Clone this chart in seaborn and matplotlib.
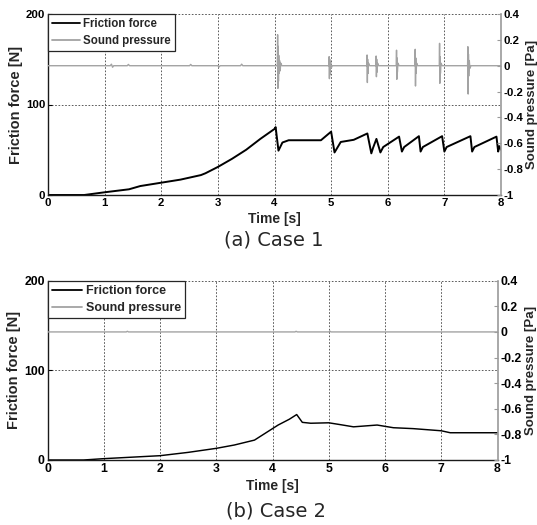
import numpy as np
import pandas as pd
import matplotlib
matplotlib.use("Agg")
import matplotlib.pyplot as plt
import seaborn as sns
from matplotlib.lines import Line2D

sns.set_style("white")
plt.rcParams['font.family'] = ['Liberation Sans', 'DejaVu Sans']
plt.rcParams['axes.unicode_minus'] = False

# ---------------- data ----------------
# Case 1 friction force [N]
case1_time = [0, 0.64, 1.0, 1.43, 1.63, 2.0, 2.34, 2.7, 2.78, 3.0, 3.25, 3.5, 3.75, 4.0, 4.02,
              4.07, 4.14, 4.25, 4.82, 5.0, 5.06, 5.17, 5.4, 5.64, 5.71, 5.74, 5.80, 5.87, 5.92,
              6.2, 6.25, 6.29, 6.55, 6.58, 6.62, 6.96, 7.0, 7.04, 7.46, 7.49, 7.53, 7.92, 7.95,
              7.97, 8.0]
case1_force = [0, 0, 3, 6.3, 9.9, 13.6, 17, 22, 24, 31, 40, 50, 62, 73, 75,
               49, 58, 60.5, 60.5, 70, 47, 58.6, 61, 68, 46, 52, 62, 47, 53,
               64.5, 48, 53, 65, 48, 53, 65, 48, 53, 65, 48, 53, 64.5, 48,
               54, 50]

# Case 1 sound pressure [Pa]
case1_sound_t = [0.00, 1.10, 1.12, 1.14, 1.16, 1.40, 1.42, 1.44, 2.50, 2.52, 2.54,
                 3.00, 3.02, 3.04, 3.40, 3.42, 3.44,
                 4.050, 4.055, 4.060, 4.065, 4.070, 4.075, 4.080, 4.090, 4.100, 4.110, 4.130,
                 4.960, 4.965, 4.970, 4.975, 4.980, 4.990, 5.000, 5.020,
                 5.630, 5.635, 5.640, 5.645, 5.650, 5.660, 5.680,
                 5.790, 5.795, 5.800, 5.805, 5.810, 5.820, 5.840,
                 6.150, 6.155, 6.160, 6.165, 6.170, 6.180, 6.200,
                 6.480, 6.485, 6.490, 6.495, 6.500, 6.510, 6.530,
                 6.910, 6.915, 6.920, 6.925, 6.930, 6.940, 6.960,
                 7.410, 7.415, 7.420, 7.425, 7.430, 7.440, 7.450, 7.470,
                 8.00]
case1_sound_p = [0, 0, 0.012, -0.012, 0, 0, 0.01, 0, 0, 0.01, 0,
                 0, -0.01, 0, 0, 0.012, 0,
                 0, 0.24, -0.175, 0.15, -0.12, 0.08, -0.06, 0.04, -0.04, 0.02, 0,
                 0, 0.07, -0.10, 0.05, -0.07, 0.03, -0.02, 0,
                 0, 0.083, -0.13, 0.05, -0.06, 0.02, 0,
                 0, 0.075, -0.085, 0.05, -0.05, 0.02, 0,
                 0, 0.12, -0.105, 0.06, -0.05, 0.02, 0,
                 0, 0.127, -0.157, 0.06, -0.06, 0.02, 0,
                 0, 0.173, -0.136, 0.07, -0.06, 0.02, 0,
                 0, 0.147, -0.219, 0.09, -0.08, 0.04, -0.02, 0,
                 0]

# Case 2 friction force [N]
case2_time = [0, 0.64, 1.0, 2.0, 2.5, 3.0, 3.32, 3.68, 3.95, 4.1, 4.3, 4.43, 4.53, 4.68,
              5.0, 5.2, 5.44, 5.86, 6.15, 6.5, 7.0, 7.16, 7.5, 8.0]
case2_force = [0, 0, 1.5, 4.8, 8.5, 13, 16.7, 22.2, 33, 39, 45.5, 50.7, 42, 41,
               41.5, 39.5, 37, 39, 36, 35, 32.6, 30.4, 30.4, 30.4]

# Case 2 sound pressure [Pa]
case2_sound_t = [0.0, 1.40, 1.42, 1.44, 4.40, 4.42, 4.44, 5.00, 5.02, 5.04, 8.0]
case2_sound_p = [0, 0, 0.005, 0, 0, 0.005, 0, 0, 0.006, 0, 0]

x_ticks = [0, 1, 2, 3, 4, 5, 6, 7, 8]
left_ticks = [0, 100, 200]
right_ticks = [-1, -0.8, -0.6, -0.4, -0.2, 0, 0.2, 0.4]
right_labels = ['-1', '-0.8', '-0.6', '-0.4', '-0.2', '0', '0.2', '0.4']
series_names = ['Friction force', 'Sound pressure']
captions = ['(a) Case 1', '(b) Case 2']

FRICTION_C = 'black'
SOUND_C = '#a3a3a3'

fig = plt.figure(figsize=(5.37, 5.25), dpi=100)
ax_a = fig.add_axes([48 / 537, 1 - 195 / 525, 453 / 537, 181 / 525])
ax_b = fig.add_axes([47.5 / 537, 1 - 460 / 525, 450 / 537, 179.3 / 525])


def panel(ax, t_f, f, t_s, p, fs_tick, fs_leg, lw_f):
    df_f = pd.DataFrame({'t': t_f, 'f': f})
    df_s = pd.DataFrame({'t': t_s, 'p': p})
    sns.lineplot(data=df_f, x='t', y='f', ax=ax, color=FRICTION_C, lw=lw_f,
                 estimator=None, sort=False, legend=False)
    ax.set_xlim(0, 8)
    ax.set_ylim(0, 200)
    ax.set_xticks(x_ticks)
    ax.set_yticks(left_ticks)
    ax.grid(True, ls=(0, (2, 2)), color='0.25', lw=0.6)
    for s in ['top', 'right']:
        ax.spines[s].set_visible(False)
    for s in ['left', 'bottom']:
        ax.spines[s].set_color('0.1')
        ax.spines[s].set_linewidth(1.0)
    ax.tick_params(axis='both', direction='in', length=3, width=0.8, pad=2,
                   labelsize=fs_tick, colors='black')
    for lab in ax.get_xticklabels() + ax.get_yticklabels():
        lab.set_fontweight('bold')
    ax.set_xlabel('Time [s]', fontsize=10, fontweight='bold', labelpad=3)
    ax.set_ylabel('Friction force [N]', fontsize=10.5, fontweight='bold', labelpad=2)

    ax2 = ax.twinx()
    sns.lineplot(data=df_s, x='t', y='p', ax=ax2, color=SOUND_C, lw=1.0,
                 estimator=None, sort=False, legend=False)
    ax2.set_xlim(0, 8)
    ax2.set_ylim(-1, 0.4)
    ax2.set_yticks(right_ticks)
    ax2.set_yticklabels(right_labels)
    for s in ['top', 'left', 'bottom']:
        ax2.spines[s].set_visible(False)
    ax2.spines['right'].set_color('#9a9a9a')
    ax2.spines['right'].set_linewidth(1.2)
    ax2.tick_params(axis='y', direction='in', length=3, width=0.8, pad=2,
                    labelsize=fs_tick, color='#9a9a9a', labelcolor='black')
    for lab in ax2.get_yticklabels():
        lab.set_fontweight('bold')
    ax2.set_ylabel('Sound pressure [Pa]', fontsize=9.5, fontweight='bold', labelpad=2)

    handles = [Line2D([], [], color=FRICTION_C, lw=1.3),
               Line2D([], [], color=SOUND_C, lw=1.3)]
    leg = ax2.legend(handles, series_names, loc='upper left', borderaxespad=0,
                     frameon=True, fancybox=False, framealpha=1, edgecolor='0.15',
                     prop={'weight': 'bold', 'size': fs_leg}, handlelength=2.4,
                     handletextpad=0.3, labelspacing=0.4, borderpad=0.35)
    leg.get_frame().set_linewidth(0.9)
    return ax2


panel(ax_a, case1_time, case1_force, case1_sound_t, case1_sound_p, 8.2, 8.3, 1.4)
panel(ax_b, case2_time, case2_force, case2_sound_t, case2_sound_p, 8.8, 9.0, 1.05)

fig.text(274 / 537, 1 - 240 / 525, captions[0], ha='center', va='center', fontsize=14,
         family='DejaVu Sans')
fig.text(276 / 537, 1 - 511 / 525, captions[1], ha='center', va='center', fontsize=14,
         family='DejaVu Sans')

fig.savefig('out.png', dpi=100)
